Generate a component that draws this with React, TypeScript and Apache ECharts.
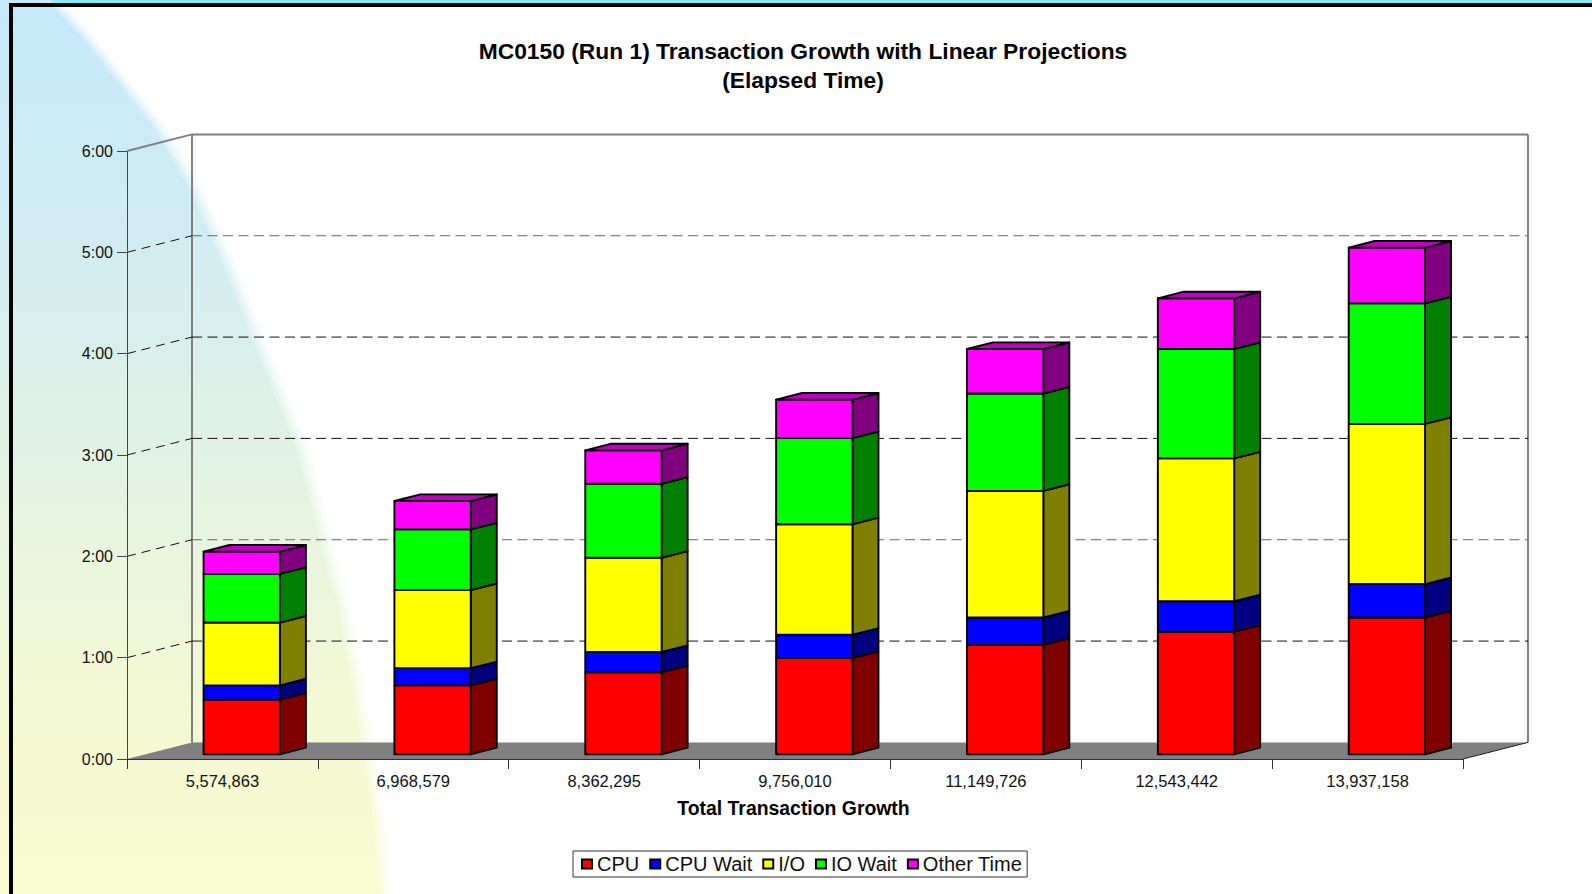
import React, { useEffect, useRef } from "react";
import * as echarts from "echarts";

const categories = ["5,574,863", "6,968,579", "8,362,295", "9,756,010", "11,149,726", "12,543,442", "13,937,158"];
const yTicks = [1, 2, 3, 4, 5];
const gridColors = ["#111", "#666", "#111", "#111", "#666"];
const cpu = [0.54, 0.68, 0.81, 0.95, 1.08, 1.21, 1.35];
const cpuWait = [0.14, 0.17, 0.2, 0.23, 0.27, 0.3, 0.33];
const io = [0.62, 0.77, 0.93, 1.09, 1.25, 1.41, 1.58];
const ioWait = [0.48, 0.6, 0.73, 0.85, 0.96, 1.08, 1.19];
const otherTime = [0.22, 0.28, 0.33, 0.38, 0.44, 0.5, 0.55];

const seriesNames = ["CPU", "CPU Wait", "I/O", "IO Wait", "Other Time"];
const seriesValues = [cpu, cpuWait, io, ioWait, otherTime];
const frontColors = ["#ff0000", "#0000ff", "#ffff00", "#00ff00", "#ff00ff"];
const sideColors = ["#800000", "#000080", "#808000", "#008000", "#800080"];

const FONT = "'Liberation Sans', Arial, sans-serif";
const BACK_DX = 65;
const BACK_DY = -16.6;
const BAR_DX = 19.3;
const BAR_DY = -4.7;
const DEPTH_DX = 26;
const DEPTH_DY = -6.6;
const BAR_RATIO = 0.4;

const curve = [
  [0, 0], [48, 0], [57, 7], [83, 35], [105, 62], [127, 90], [160, 132], [193, 190], [220, 250], [240, 298],
  [253, 333], [283, 407], [300, 450], [330, 570], [340, 600], [354, 680], [367, 760], [375, 810], [383, 894], [0, 894],
];
const shifted = (dx: number) => curve.map(([x, y], i) => (i === 0 || i === curve.length - 1 ? [x, y] : [x + dx, y]));
const bgFill = () =>
  new echarts.graphic.LinearGradient(0, 0, 0, 1, [
    { offset: 0, color: "#c6e9fb" },
    { offset: 0.3, color: "#d3edf0" },
    { offset: 0.55, color: "#e4f3e2" },
    { offset: 0.75, color: "#f2f8d6" },
    { offset: 1, color: "#f9fcd1" },
  ]);

function renderFrame(params: any, api: any) {
  const cs = params.coordSys;
  const left = cs.x;
  const right = cs.x + cs.width;
  const y0 = api.coord([0, 0])[1];
  const y6 = api.coord([0, 6])[1];
  const wall = { stroke: "#808080", lineWidth: 2, fill: null };
  const line = (x1: number, y1: number, x2: number, y2: number, style: any) => ({
    type: "line",
    shape: { x1, y1, x2, y2 },
    style,
  });
  const children: any[] = [
    {
      type: "polygon",
      shape: {
        points: [
          [left, y0],
          [left + BACK_DX, y0 + BACK_DY],
          [right + BACK_DX, y0 + BACK_DY],
          [right, y0],
        ],
      },
      style: { fill: "#808080" },
    },
    line(left + BACK_DX, y6 + BACK_DY, left + BACK_DX, y0 + BACK_DY, wall),
    line(right + BACK_DX, y6 + BACK_DY, right + BACK_DX, y0 + BACK_DY, wall),
    line(left + BACK_DX, y6 + BACK_DY, right + BACK_DX, y6 + BACK_DY, wall),
    line(left, y6, left + BACK_DX, y6 + BACK_DY, wall),
    line(right, y0, right + BACK_DX, y0 + BACK_DY, { stroke: "#222", lineWidth: 1 }),
  ];
  yTicks.forEach((t, i) => {
    const y = api.coord([0, t])[1];
    children.push(line(left, y, left + BACK_DX, y + BACK_DY, { stroke: "#111", lineWidth: 1, lineDash: [9, 6], fill: null }));
    children.push(
      line(left + BACK_DX, y + BACK_DY, right + BACK_DX, y + BACK_DY, {
        stroke: gridColors[i],
        lineWidth: 1,
        lineDash: [10, 5.5],
        fill: null,
      })
    );
  });
  return { type: "group", children };
}

function makeRenderSegment(seriesIndex: number) {
  return (params: any, api: any) => {
    const cat = api.value(0);
    const c0 = api.coord([cat, api.value(1)]);
    const c1 = api.coord([cat, api.value(2)]);
    const w = api.size([1, 0])[0] * BAR_RATIO;
    const x0 = c0[0] + BAR_DX - w / 2;
    const x1 = x0 + w;
    const yb = c0[1] + BAR_DY;
    const yt = c1[1] + BAR_DY;
    const edge = { stroke: "#000", lineWidth: 1.9, lineJoin: "round" };
    const children: any[] = [
      {
        type: "polygon",
        shape: {
          points: [
            [x1, yb],
            [x1 + DEPTH_DX, yb + DEPTH_DY],
            [x1 + DEPTH_DX, yt + DEPTH_DY],
            [x1, yt],
          ],
        },
        style: { fill: sideColors[seriesIndex], ...edge },
      },
      {
        type: "rect",
        shape: { x: x0, y: yt, width: w, height: yb - yt },
        style: { fill: frontColors[seriesIndex], ...edge },
      },
    ];
    if (seriesIndex === seriesNames.length - 1) {
      children.push({
        type: "polygon",
        shape: {
          points: [
            [x0, yt],
            [x1, yt],
            [x1 + DEPTH_DX, yt + DEPTH_DY],
            [x0 + DEPTH_DX, yt + DEPTH_DY],
          ],
        },
        style: { fill: "#c000c0", ...edge },
      });
    }
    return { type: "group", children };
  };
}

export default function App() {
  const ref = useRef<HTMLDivElement>(null);
  useEffect(() => {
    document.body.style.margin = "0";
    const chart = echarts.init(ref.current!, undefined, { renderer: "svg" });
    const running = categories.map(() => 0);
    const segSeries = seriesNames.map((name, si) => ({
      name,
      type: "custom",
      z: 5,
      clip: false,
      renderItem: makeRenderSegment(si),
      itemStyle: { color: frontColors[si], borderColor: "#000", borderWidth: 1.5 },
      encode: { x: 0, y: 2 },
      data: seriesValues[si].map((v, i) => {
        const from = running[i];
        running[i] = from + v;
        return [i, from, running[i]];
      }),
    }));
    chart.setOption({
      animation: false,
      backgroundColor: "#ffffff",
      title: {
        text: "MC0150 (Run 1) Transaction Growth with Linear Projections\n(Elapsed Time)",
        left: 803,
        top: 36,
        textAlign: "center",
        padding: 0,
        textStyle: { fontFamily: FONT, fontSize: 22.8, fontWeight: "bold", color: "#000", lineHeight: 29, align: "center" },
      },
      legend: {
        data: seriesNames,
        left: 573,
        top: 851,
        orient: "horizontal",
        icon: "rect",
        itemWidth: 10,
        itemHeight: 9,
        itemGap: 10,
        padding: [3, 5, 3, 8],
        backgroundColor: "#ffffff",
        borderColor: "#333",
        borderWidth: 1,
        textStyle: { fontFamily: FONT, fontSize: 20, color: "#111" },
        selectedMode: false,
      },
      grid: { left: 127, right: 129, top: 151, bottom: 135, containLabel: false },
      xAxis: {
        type: "category",
        data: categories,
        name: "Total Transaction Growth",
        nameLocation: "middle",
        nameGap: 49,
        nameTextStyle: { fontFamily: FONT, fontSize: 19.4, fontWeight: "bold", color: "#000", verticalAlign: "middle", padding: [0, 3, 0, 0] },
        axisLine: { lineStyle: { color: "#333", width: 1 } },
        axisTick: { show: true, alignWithLabel: false, length: 10, interval: 0, lineStyle: { color: "#333" } },
        axisLabel: { fontFamily: FONT, fontSize: 16.5, color: "#111", margin: 13, interval: 0 },
        splitLine: { show: false },
      },
      yAxis: {
        type: "value",
        min: 0,
        max: 6,
        interval: 1,
        axisLine: { show: true, lineStyle: { color: "#444", width: 1 } },
        axisTick: { show: true, length: 10, lineStyle: { color: "#444" } },
        axisLabel: { fontFamily: FONT, fontSize: 16, color: "#111", margin: 14, padding: [0, 0, 3, 0], formatter: (v: number) => `${v}:00` },
        splitLine: { show: false },
      },
      graphic: {
        elements: [
          { type: "rect", z: 0, silent: true, shape: { x: 50, y: 0, width: 1542, height: 3 }, style: { fill: "#84ecf6" } },
          { type: "polygon", z: 0, silent: true, shape: { points: shifted(9) }, style: { fill: bgFill(), opacity: 0.2 } },
          { type: "polygon", z: 0, silent: true, shape: { points: shifted(5) }, style: { fill: bgFill(), opacity: 0.3 } },
          { type: "polygon", z: 0, silent: true, shape: { points: shifted(1) }, style: { fill: bgFill(), opacity: 0.5 } },
          { type: "polygon", z: 0, silent: true, shape: { points: shifted(-3) }, style: { fill: bgFill() } },
          { type: "rect", z: 0, silent: true, shape: { x: 9, y: 3, width: 1583, height: 4 }, style: { fill: "#000" } },
          { type: "rect", z: 0, silent: true, shape: { x: 9, y: 3, width: 4, height: 891 }, style: { fill: "#000" } },
        ],
      },
      series: [
        {
          name: "frame",
          type: "custom",
          z: 1,
          silent: true,
          clip: false,
          renderItem: renderFrame,
          data: [[0, 0]],
        },
        ...segSeries,
      ],
    });
    return () => chart.dispose();
  }, []);
  return <div ref={ref} style={{ position: "fixed", left: 0, top: 0, width: 1592, height: 894 }} />;
}
